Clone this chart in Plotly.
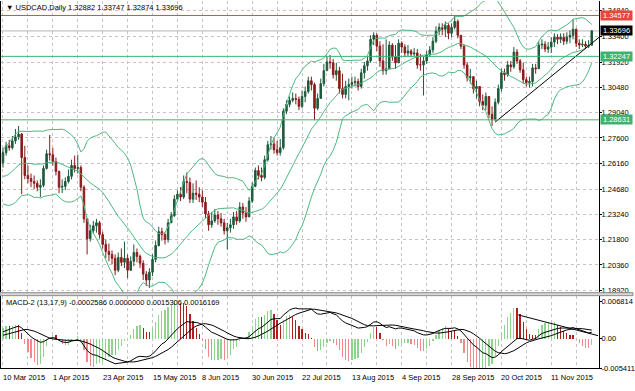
import numpy as np
import plotly.graph_objects as go

# ---------------- data ----------------
date_labels = ["10 Mar 2015", "1 Apr 2015", "23 Apr 2015", "15 May 2015", "8 Jun 2015",
               "30 Jun 2015", "22 Jul 2015", "13 Aug 2015", "4 Sep 2015", "28 Sep 2015",
               "20 Oct 2015", "11 Nov 2015"]
label_bars = [0, 16, 32, 48, 64, 80, 96, 112, 128, 144, 160, 176]
grid_bars = list(range(0, 190, 8))

# closes before the visible window (used only by the indicators)
pre_closes = [1.2420, 1.2410, 1.2530, 1.2640, 1.2700, 1.2590, 1.2480, 1.2600, 1.2490, 1.2560,
              1.2530, 1.2610, 1.2660, 1.2500, 1.2440, 1.2420, 1.2400, 1.2470, 1.2540, 1.2500,
              1.2560, 1.2590, 1.2470, 1.2520, 1.2510, 1.2560, 1.2620, 1.2580, 1.2530, 1.2630,
              1.2650]

first_open = 1.2619
closes = [
    1.2676, 1.2715, 1.2704, 1.2743, 1.2766, 1.2782, 1.2648, 1.2546, 1.2529, 1.2512,
    1.2501, 1.2479, 1.2490, 1.2586, 1.2670, 1.2664, 1.2625, 1.2569, 1.2479, 1.2484,
    1.2512, 1.2541, 1.2603, 1.2586, 1.2591, 1.2479, 1.2299, 1.2186, 1.2231, 1.2259,
    1.2276, 1.2209, 1.2153, 1.2113, 1.2096, 1.2074, 1.2006, 1.2079, 1.2051, 1.2074,
    1.2006, 1.2057, 1.2107, 1.2085, 1.2046, 1.1984, 1.1950, 1.1995, 1.2068, 1.2147,
    1.2226, 1.2209, 1.2181, 1.2276, 1.2316, 1.2411, 1.2439, 1.2423, 1.2512, 1.2507,
    1.2411, 1.2445, 1.2439, 1.2423, 1.2394, 1.2327, 1.2265, 1.2287, 1.2321, 1.2299,
    1.2276, 1.2231, 1.2248, 1.2265, 1.2310, 1.2287, 1.2366, 1.2332, 1.2310, 1.2400,
    1.2484, 1.2574, 1.2546, 1.2535, 1.2636, 1.2721, 1.2726, 1.2693, 1.2676, 1.2704,
    1.2912, 1.2951, 1.2974, 1.2985, 1.2980, 1.2940, 1.2996, 1.3024, 1.3086, 1.3064,
    1.2929, 1.2985, 1.3069, 1.3143, 1.3193, 1.3188, 1.3120, 1.3143, 1.3041, 1.3008,
    1.3053, 1.3064, 1.3075, 1.3081, 1.3053, 1.3131, 1.3171, 1.3199, 1.3322, 1.3345,
    1.3283, 1.3199, 1.3143, 1.3154, 1.3289, 1.3221, 1.3188, 1.3300, 1.3278, 1.3244,
    1.3255, 1.3238, 1.3244, 1.3176, 1.3176, 1.3199, 1.3233, 1.3261, 1.3311, 1.3368,
    1.3390, 1.3379, 1.3401, 1.3356, 1.3390, 1.3424, 1.3345, 1.3283, 1.3176, 1.3103,
    1.3109, 1.3041, 1.3053, 1.2968, 1.2946, 1.2996, 1.2895, 1.2867, 1.2963, 1.3041,
    1.3131, 1.3120, 1.3176, 1.3165, 1.3249, 1.3199, 1.3148, 1.3092, 1.3075, 1.3081,
    1.3159, 1.3154, 1.3289, 1.3294, 1.3266, 1.3278, 1.3306, 1.3334, 1.3322, 1.3334,
    1.3311, 1.3334, 1.3345, 1.3379, 1.3300, 1.3289, 1.3294, 1.3283, 1.32882, 1.33696]
highs = [
    1.2704, 1.2737, 1.2749, 1.2771, 1.2811, 1.2828, 1.2788, 1.2715, 1.2603, 1.2557,
    1.2546, 1.2518, 1.2524, 1.2603, 1.2693, 1.2777, 1.2704, 1.2648, 1.2574, 1.2524,
    1.2535, 1.2580, 1.2636, 1.2659, 1.2664, 1.2603, 1.2490, 1.2299, 1.2265, 1.2287,
    1.2299, 1.2287, 1.2226, 1.2181, 1.2158, 1.2119, 1.2096, 1.2107, 1.2130, 1.2169,
    1.2096, 1.2085, 1.2153, 1.2130, 1.2096, 1.2063, 1.2001, 1.2018, 1.2096, 1.2175,
    1.2254, 1.2248, 1.2220, 1.2299, 1.2338, 1.2434, 1.2462, 1.2479, 1.2546, 1.2563,
    1.2535, 1.2501, 1.2518, 1.2479, 1.2462, 1.2423, 1.2344, 1.2338, 1.2355, 1.2344,
    1.2332, 1.2299, 1.2276, 1.2299, 1.2338, 1.2344, 1.2394, 1.2389, 1.2366, 1.2423,
    1.2507, 1.2591, 1.2603, 1.2591, 1.2659, 1.2743, 1.2771, 1.2760, 1.2743, 1.2754,
    1.2929, 1.2974, 1.2996, 1.3019, 1.3013, 1.2996, 1.3030, 1.3053, 1.3109, 1.3109,
    1.3075, 1.3013, 1.3098, 1.3182, 1.3221, 1.3233, 1.3210, 1.3188, 1.3165, 1.3126,
    1.3086, 1.3098, 1.3109, 1.3109, 1.3098, 1.3154, 1.3193, 1.3221, 1.3345, 1.3362,
    1.3356, 1.3311, 1.3294, 1.3322, 1.3311, 1.3300, 1.3289, 1.3322, 1.3311, 1.3294,
    1.3289, 1.3266, 1.3272, 1.3266, 1.3238, 1.3221, 1.3255, 1.3283, 1.3334, 1.3396,
    1.3413, 1.3413, 1.3424, 1.3413, 1.3413, 1.3457, 1.3435, 1.3345, 1.3289, 1.3193,
    1.3154, 1.3109, 1.3086, 1.3053, 1.3008, 1.3019, 1.2996, 1.2940, 1.2985, 1.3064,
    1.3154, 1.3154, 1.3199, 1.3199, 1.3278, 1.3266, 1.3210, 1.3188, 1.3109, 1.3109,
    1.3182, 1.3182, 1.3311, 1.3322, 1.3311, 1.3306, 1.3334, 1.3356, 1.3351, 1.3356,
    1.3356, 1.3362, 1.3373, 1.3435, 1.3384, 1.3322, 1.3322, 1.3311, 1.3317, 1.33747]
lows = [
    1.2591, 1.2659, 1.2687, 1.2693, 1.2726, 1.2749, 1.2439, 1.2524, 1.2501, 1.2479,
    1.2468, 1.2456, 1.2423, 1.2479, 1.2580, 1.2631, 1.2603, 1.2546, 1.2445, 1.2445,
    1.2462, 1.2501, 1.2524, 1.2563, 1.2557, 1.2456, 1.2276, 1.2096, 1.2169, 1.2214,
    1.2220, 1.2186, 1.2130, 1.2074, 1.2057, 1.2040, 1.1978, 1.1995, 1.2029, 1.2018,
    1.1961, 1.2018, 1.2029, 1.2051, 1.2018, 1.1950, 1.1916, 1.1905, 1.1973, 1.2051,
    1.2141, 1.2175, 1.2153, 1.2164, 1.2276, 1.2310, 1.2400, 1.2400, 1.2411, 1.2445,
    1.2389, 1.2389, 1.2406, 1.2394, 1.2366, 1.2304, 1.2231, 1.2248, 1.2276, 1.2265,
    1.2254, 1.2209, 1.2124, 1.2220, 1.2242, 1.2265, 1.2276, 1.2299, 1.2282, 1.2310,
    1.2389, 1.2479, 1.2524, 1.2512, 1.2524, 1.2625, 1.2693, 1.2670, 1.2659, 1.2659,
    1.2693, 1.2895, 1.2935, 1.2963, 1.2951, 1.2918, 1.2929, 1.2963, 1.3013, 1.3030,
    1.2861, 1.2918, 1.2985, 1.3053, 1.3143, 1.3154, 1.3098, 1.3086, 1.3013, 1.2985,
    1.2985, 1.2974, 1.3041, 1.3053, 1.3030, 1.3041, 1.3098, 1.3143, 1.3188, 1.3289,
    1.3255, 1.3165, 1.3120, 1.3120, 1.3165, 1.3199, 1.3154, 1.3210, 1.3244, 1.3221,
    1.3221, 1.3221, 1.3227, 1.3154, 1.3143, 1.3002, 1.3182, 1.3221, 1.3244, 1.3300,
    1.3345, 1.3345, 1.3334, 1.3322, 1.3334, 1.3379, 1.3328, 1.3266, 1.3154, 1.3081,
    1.3069, 1.3013, 1.2985, 1.2940, 1.2918, 1.2918, 1.2873, 1.2828, 1.2856, 1.2951,
    1.3024, 1.3086, 1.3109, 1.3137, 1.3154, 1.3182, 1.3131, 1.3069, 1.3053, 1.3047,
    1.3053, 1.3126, 1.3154, 1.3266, 1.3249, 1.3244, 1.3244, 1.3278, 1.3294, 1.3300,
    1.3289, 1.3294, 1.3300, 1.3322, 1.3278, 1.3266, 1.3278, 1.3266, 1.3272, 1.32874]

price_ticks = [1.34840, 1.33400, 1.31920, 1.30480, 1.29040, 1.27600, 1.26160,
               1.24680, 1.23240, 1.21800, 1.20360, 1.18920]
levels = [1.34577, 1.32247, 1.28631]
level_colors = ["#E8463C", "#3CB371", "#3CB371"]
bid = 1.33696
trend_bars = [158, 191.4]
trend_prices = [1.2850, 1.3334]
macd_trend_bars = [165.4, 191.0]
macd_trend_vals = [0.00433, 0.00054]
macd_ticks = [0.006814, 0.0, -0.005411]
macd_ticktext = ["0.006814", "0.00", "-0.005411"]
title_text = "\u25BC USDCAD,Daily 1.32882 1.33747 1.32874 1.33696"
macd_title = "MACD-2 (13,17,9) -0.0002586 0.0000000 0.0015306 0.0016169"

# ---------------- indicators ----------------
n = len(closes)
idx = np.arange(n)
opens = [first_open] + closes[:-1]
allc = np.array(pre_closes + closes, dtype=float)


def ema(a, p):
    k = 2.0 / (p + 1)
    out = np.empty_like(a)
    out[0] = a[0]
    for i in range(1, len(a)):
        out[i] = out[i - 1] + k * (a[i] - out[i - 1])
    return out


def sma(a, p):
    out = np.full_like(a, np.nan)
    for i in range(p - 1, len(a)):
        out[i] = a[i - p + 1:i + 1].mean()
    return out


def sd(a, p):
    out = np.full_like(a, np.nan)
    for i in range(p - 1, len(a)):
        out[i] = a[i - p + 1:i + 1].std()
    return out


mid = sma(allc, 20)
dev = sd(allc, 20)
bb_mid = mid[-n:]
bb_up = (mid + 2 * dev)[-n:]
bb_lo = (mid - 2 * dev)[-n:]

macd_full = ema(allc, 13) - ema(allc, 17)
sig_full = sma(macd_full, 9)
hist_full = 3 * (macd_full - sig_full)
macd = macd_full[-n:]
sig = sig_full[-n:]
hist = hist_full[-n:]
prev = hist_full[-n - 1:-1]
hcol = []
for h, p in zip(hist, prev):
    if h >= p:
        hcol.append("#8ED48E")
    elif h >= 0:
        hcol.append("#B01E1E")
    else:
        hcol.append("#F08A8A")

# ---------------- geometry ----------------
W, H = 635, 391
px_x = lambda v: v / W
px_y = lambda v: 1 - v / H

FONT = "Liberation Sans"
FS = 7.5
GRID = "#C4C4C4"

fig = go.Figure()

fig.add_trace(go.Candlestick(
    x=idx, open=opens, high=highs, low=lows, close=closes,
    increasing=dict(line=dict(color="#1E5A3C", width=1), fillcolor="#1E5A3C"),
    decreasing=dict(line=dict(color="#8B1A1A", width=1), fillcolor="#8B1A1A"),
    xaxis="x", yaxis="y", showlegend=False, hoverinfo="skip"))

for band in (bb_up, bb_mid, bb_lo):
    fig.add_trace(go.Scatter(x=idx, y=band, mode="lines", line=dict(color="#4DB87E", width=1),
                             xaxis="x", yaxis="y", showlegend=False, hoverinfo="skip"))

fig.add_trace(go.Scatter(x=trend_bars, y=trend_prices, mode="lines",
                         line=dict(color="black", width=1), xaxis="x", yaxis="y",
                         showlegend=False, hoverinfo="skip"))

fig.add_trace(go.Bar(x=idx, y=hist, marker=dict(color=hcol, line=dict(width=0)), width=0.4,
                     xaxis="x2", yaxis="y2", showlegend=False, hoverinfo="skip"))
fig.add_trace(go.Scatter(x=idx, y=macd, mode="lines", line=dict(color="black", width=1),
                         xaxis="x2", yaxis="y2", showlegend=False, hoverinfo="skip"))
fig.add_trace(go.Scatter(x=idx, y=sig, mode="lines", line=dict(color="black", width=1),
                         xaxis="x2", yaxis="y2", showlegend=False, hoverinfo="skip"))
fig.add_trace(go.Scatter(x=macd_trend_bars, y=macd_trend_vals, mode="lines",
                         line=dict(color="black", width=1), xaxis="x2", yaxis="y2",
                         showlegend=False, hoverinfo="skip"))

# price scale: y px = 1 -> top, 296 -> bottom
y_top_px, y_bot_px = 1, 296
ppp = (1.34840 - 1.18920) / (294.0 - 11.0)  # price per pixel


def price_at(ypx):
    return 1.34840 + (11.0 - ypx) * ppp


x_left_px, x_right_px = 1, 601
bar_px = 3.125
x0 = (x_left_px - 3) / bar_px
x1 = (x_right_px - 3) / bar_px

# macd scale
m_top_px, m_bot_px = 300, 373
mpp = 0.005411 / (373 - 343.0)
m_top = (343.0 - m_top_px) * mpp
m_bot = -0.005411

axis_common = dict(showgrid=True, gridcolor=GRID, griddash="3px,3px", gridwidth=1,
                   zeroline=False, tickvals=grid_bars, showticklabels=False, ticks="",
                   range=[x0, x1], domain=[px_x(x_left_px), px_x(x_right_px)])

yfont = dict(size=FS, family=FONT, color="black")
fig.update_layout(
    width=W, height=H, margin=dict(l=0, r=0, t=0, b=0),
    paper_bgcolor="white", plot_bgcolor="white", hovermode=False, bargap=0,
    font=dict(family=FONT, size=FS, color="black"),
    xaxis=dict(anchor="y", rangeslider=dict(visible=False), showline=False, **axis_common),
    xaxis2=dict(anchor="y2", matches="x", showline=True, linecolor="black", linewidth=1,
                **axis_common),
    yaxis=dict(domain=[px_y(y_bot_px), px_y(y_top_px)], anchor="x", side="right",
               range=[price_at(y_bot_px), price_at(y_top_px)],
               tickvals=price_ticks, ticktext=["%.5f" % v for v in price_ticks],
               ticks="outside", ticklen=2, tickcolor="black", ticklabelstandoff=-2,
               showline=True, linecolor="black", linewidth=1, mirror=True, showgrid=True,
               gridcolor=GRID, griddash="3px,3px", zeroline=False, tickfont=yfont),
    yaxis2=dict(domain=[px_y(m_bot_px), px_y(m_top_px)], anchor="x2", side="right",
                range=[m_bot, m_top], tickvals=macd_ticks, ticktext=macd_ticktext,
                ticks="outside", ticklen=2, tickcolor="black", ticklabelstandoff=-2,
                showline=True, linecolor="black", linewidth=1, mirror=True,
                showgrid=False, zeroline=False, tickfont=yfont),
)

shapes = []
# separator between panels
shapes.append(dict(type="rect", xref="paper", yref="paper", x0=0, x1=1,
                   y0=px_y(299.5), y1=px_y(296.5), fillcolor="#D8D8D8",
                   line=dict(color="#8A8A8A", width=1), layer="above"))
# level lines
for lv, c in zip(levels, level_colors):
    shapes.append(dict(type="line", xref="x domain", yref="y", x0=0, x1=1, y0=lv, y1=lv,
                       line=dict(color=c, width=1), layer="above"))
shapes.append(dict(type="line", xref="x domain", yref="y", x0=0, x1=1, y0=bid, y1=bid,
                   line=dict(color="#B4B4B4", width=1), layer="below"))
fig.update_layout(shapes=shapes)

ann = []
ann.append(dict(text=title_text, xref="paper", yref="paper", x=px_x(4), y=px_y(8),
                xanchor="left", yanchor="middle", showarrow=False,
                font=dict(size=FS, family=FONT, color="black")))
ann.append(dict(text=macd_title, xref="paper", yref="paper", x=px_x(4), y=px_y(306),
                xanchor="left", yanchor="middle", showarrow=False,
                font=dict(size=FS, family=FONT, color="black")))
for b, t in zip(label_bars, date_labels):
    ann.append(dict(text=t, xref="x2", yref="paper", x=b, y=px_y(382), xanchor="left",
                    yanchor="middle", showarrow=False, xshift=-2,
                    font=dict(size=FS, family=FONT, color="black")))
box_vals = levels + [bid]
box_cols = level_colors + ["#000000"]
for v, c in zip(box_vals, box_cols):
    ann.append(dict(text="%.5f" % v, xref="paper", yref="y", x=1.0, y=v,
                    xanchor="right", yanchor="middle", showarrow=False, bgcolor=c,
                    width=31, height=9, align="center", borderpad=0,
                    font=dict(size=FS, family=FONT, color="white")))
fig.update_layout(annotations=ann)

fig.write_html("out.html",
               config={"displayModeBar": False, "staticPlot": True},
               post_script="document.body.style.margin='0px';"
                           "document.body.style.overflow='hidden';")
